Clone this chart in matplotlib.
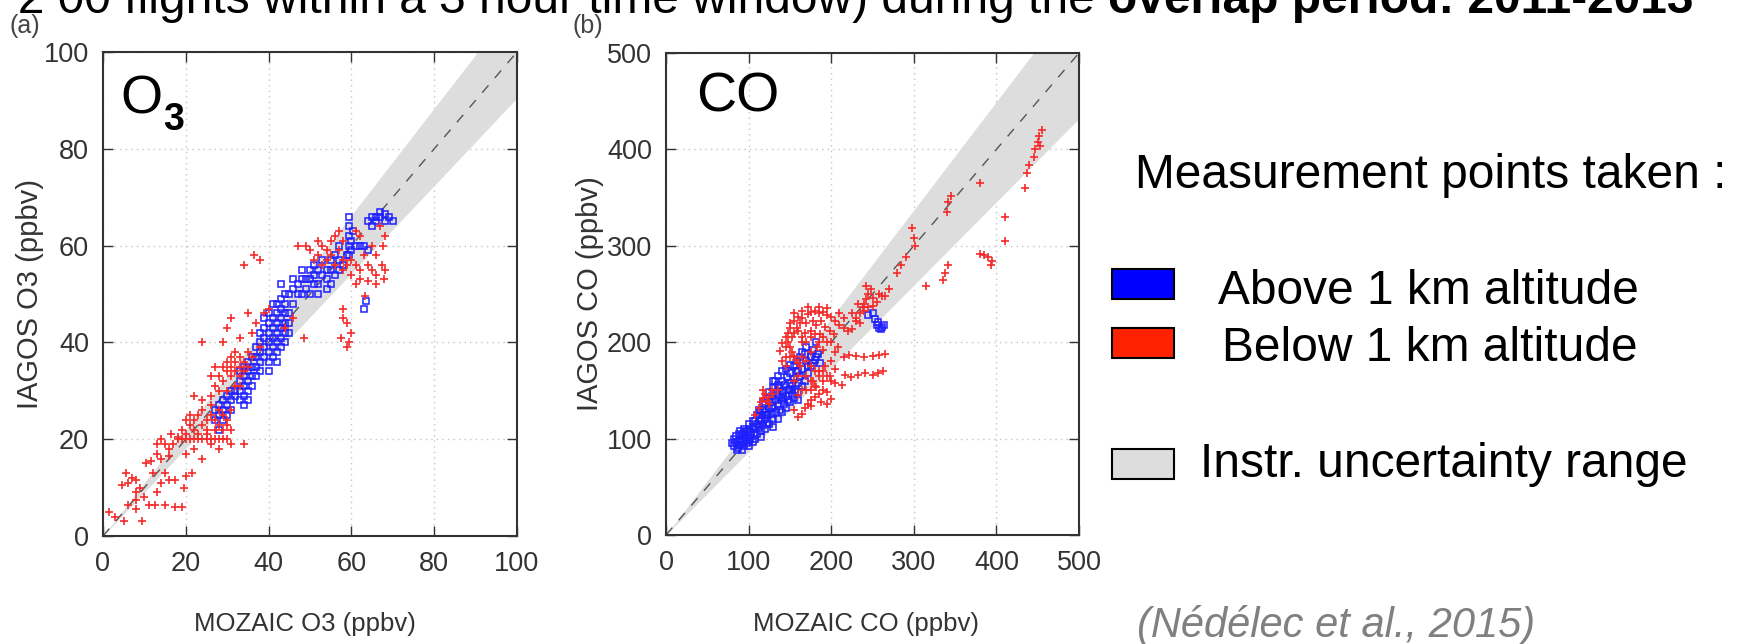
"""
IAGOS vs MOZAIC comparison scatter plots (O3 and CO), slide layout.
"""

import numpy as np
import matplotlib
matplotlib.use('Agg')
import matplotlib.pyplot as plt
from matplotlib.patches import Rectangle

plt.rcParams['font.family'] = ['Liberation Sans', 'DejaVu Sans']

# ---- data ----
o3_red = [
    (1.5, 5), (3, 4), (5, 3), (4.5, 10.5), (5.5, 13), (6, 11), (7, 12), (8, 11.5), (8, 9), (9, 10),
    (8, 7.5), (8, 5.5), (9.5, 3), (6, 6.5), (11, 6.5), (12.5, 6.5), (15, 6.5), (17.5, 6), (19, 6),
    (10.5, 15), (11.5, 15.5), (12, 13), (13, 17), (13, 19), (15, 19), (14, 16), (16, 16.5), (16.5, 21),
    (18, 20.5), (15, 13), (16, 11.5), (17.5, 11.5), (19.5, 10), (21.5, 13), (20, 12.5), (13, 9), (10, 8),
    (14, 11), (18, 20), (19, 20), (20, 20), (21, 20), (22, 20), (23, 20), (24, 20), (25, 20), (26, 20),
    (27, 20), (28, 20), (29, 20), (30, 20), (19, 22), (20, 21), (21, 23), (22, 22), (22, 24), (23, 25),
    (24, 23), (24, 26), (25, 22), (25, 24), (26, 25), (26, 27), (27, 22), (27, 24), (28, 23), (28, 26),
    (29, 22), (29, 25), (30, 24), (30, 23), (31, 26), (31, 22), (23, 21), (25, 21), (21, 25), (20, 24),
    (17, 19), (16, 18), (14, 20), (26, 19), (28, 18), (31, 19), (34, 19), (22, 18), (24, 16), (20, 17),
    (22, 29), (24, 28), (26, 29), (27, 31), (28, 30), (29, 32), (30, 30), (28, 33), (29, 35), (30, 34),
    (30, 36), (31, 33), (31, 35), (31, 37), (32, 34), (32, 36), (32, 38), (33, 33), (33, 35), (33, 37),
    (34, 34), (34, 36), (35, 35), (35, 38), (36, 37), (33, 31), (32, 31), (26, 33), (27, 35), (24, 40),
    (29, 40), (30, 43), (31, 45), (33, 41), (35, 46), (36, 42), (38, 39), (37, 44), (39, 46), (40, 47),
    (34, 56), (36.5, 58), (38, 57), (48.5, 41), (44, 43), (46, 45),
    (47, 60), (49, 60), (50, 59), (52, 61), (53, 60), (54, 59), (55, 61), (56, 62), (57, 63), (58, 61),
    (57, 59), (55, 58), (56, 56), (58, 57), (59, 56), (60, 57), (61, 56), (62, 55), (60, 54), (61, 52),
    (62, 53), (58, 55), (54, 57), (53, 56), (52, 58), (51, 57),
    (63, 58), (64, 56), (65, 55), (66, 54), (67.5, 56), (67.8, 53), (66, 52), (64, 52.7), (63.3, 49.5),
    (65, 60), (67.6, 60), (66, 58), (68, 55),
    (58, 47), (59, 44), (60, 42), (59.5, 40), (59, 39), (57.5, 41), (58, 45), (62, 62), (61, 63),
    (67, 64), (68, 62),
]
o3_blue = [
    (27, 26), (27, 24), (28, 27), (28, 25), (29, 28), (29, 26), (29, 24), (30, 29), (30, 27), (30, 25),
    (31, 30), (31, 28), (32, 30), (32, 29), (31, 26), (28, 22),
    (33, 28), (33, 30), (33, 32), (34, 29), (34, 31), (34, 33), (35, 30), (35, 32), (35, 34), (36, 31),
    (36, 33), (36, 35), (33, 34), (34, 35), (35, 36), (36, 37), (37, 33), (37, 35), (37, 37), (38, 36),
    (34, 27), (35, 28),
    (38, 38), (38, 40), (39, 37), (39, 39), (39, 41), (40, 36), (40, 38), (40, 40), (40, 42), (41, 37),
    (41, 39), (41, 41), (41, 43), (42, 38), (42, 40), (42, 42), (42, 44), (43, 39), (43, 41), (43, 43),
    (43, 45), (44, 40), (44, 42), (44, 44), (38, 42), (39, 43), (40, 44), (41, 45), (40, 46), (39, 45),
    (42, 46), (43, 47), (42, 48), (41, 48), (44, 46), (45, 46), (45, 44), (43, 49), (44, 48), (37, 39),
    (45, 42), (38, 34), (40, 34), (42, 36),
    (45, 50), (46, 51), (46, 53), (47, 52), (47, 50), (48, 53), (48, 55), (49, 51), (49, 53), (50, 50),
    (50, 53), (50, 55), (51, 54), (51, 56), (52, 52), (52, 55), (53, 54), (53, 57), (54, 53), (54, 55),
    (55, 55), (55, 57), (56, 54), (56, 58), (57, 57), (57, 55), (44, 50), (43, 52), (46, 48), (48, 50),
    (51, 52), (52, 50), (54, 51), (58, 56), (59, 58), (57, 60), (55, 52),
    (59.5, 58), (59.5, 60), (59.5, 62), (59.5, 64), (59.5, 66), (60, 59), (60, 61), (60.5, 63), (61, 60),
    (62, 60), (63, 60), (64, 59), (64, 65), (65, 66), (66, 66), (67, 66), (68, 65), (69, 66), (70, 65),
    (65, 64), (66, 65), (67, 67), (68, 66.5), (63.5, 48.5), (63, 47),
]
co_blue = [
    (80, 95), (82, 92), (82, 100), (85, 96), (85, 103), (87, 90), (88, 98), (88, 105), (90, 93), (90, 100),
    (92, 96), (92, 104), (94, 99), (95, 92), (95, 106), (97, 101), (98, 95), (98, 108), (100, 98),
    (100, 104), (100, 110), (102, 100), (103, 107), (105, 96), (105, 112), (106, 104), (108, 110),
    (108, 118), (110, 105), (110, 115), (110, 125), (112, 112), (112, 120), (114, 128), (115, 108),
    (115, 118), (116, 124), (118, 114), (118, 130), (120, 120), (120, 128), (120, 136), (122, 116),
    (122, 142), (124, 124), (125, 132), (125, 148), (126, 138), (128, 126), (128, 144), (130, 120),
    (130, 134), (130, 152), (132, 140), (133, 128), (134, 148), (135, 156), (136, 136), (137, 144),
    (138, 130), (138, 152), (140, 140), (140, 160), (142, 148), (143, 136), (144, 156), (145, 144),
    (146, 164), (148, 150), (148, 140), (150, 158), (150, 168), (152, 146), (153, 155), (155, 162),
    (156, 150), (158, 170), (160, 158), (160, 148), (162, 165), (165, 155), (165, 172), (168, 160),
    (170, 180), (172, 168), (175, 185), (175, 175), (178, 192), (180, 182), (182, 200), (184, 188),
    (186, 178), (170, 195), (165, 190), (158, 180), (150, 176), (140, 170), (132, 160),
    (95, 110), (100, 115), (105, 118), (90, 108), (86, 88), (92, 88), (100, 92), (108, 100), (115, 102),
    (120, 110), (125, 115), (130, 112), (135, 120), (140, 128), (145, 132), (150, 138), (155, 142),
    (160, 140), (118, 138), (112, 130), (130, 160), (135, 165), (145, 172), (155, 175), (162, 185),
    (168, 188), (172, 175), (178, 178), (182, 185), (160, 170), (150, 150), (142, 142), (128, 132),
    (122, 124),
    (255, 218), (258, 215), (260, 214), (262, 216), (257, 221), (264, 218), (253, 224), (250, 230), (245, 228),
]
co_red = [
    (108, 125), (112, 132), (115, 138), (118, 142), (120, 146), (122, 139), (125, 143), (128, 150),
    (130, 146), (118, 150), (125, 136), (135, 150),
    (138, 191), (141, 199), (145, 205), (148, 210), (150, 195), (152, 190), (155, 186), (157, 182),
    (160, 178), (162, 175), (150, 215), (145, 185), (140, 180),
    (165, 200), (168, 210), (170, 220), (172, 229), (176, 231), (180, 232), (185, 230), (190, 231),
    (195, 228), (200, 226), (205, 222), (210, 218), (215, 215), (220, 212), (225, 214), (230, 222),
    (178, 222), (182, 218), (188, 222), (193, 216), (198, 212), (203, 208), (176, 212), (186, 208),
    (160, 226), (155, 230),
    (145, 195), (148, 200), (152, 205), (155, 210), (158, 215), (162, 220), (165, 225), (150, 220),
    (155, 222), (160, 212), (165, 205), (170, 200), (175, 205), (180, 208), (185, 200), (190, 205),
    (195, 200), (165, 185), (170, 180), (175, 175), (180, 170), (185, 165), (190, 170), (195, 165),
    (200, 160), (205, 158), (175, 160), (170, 165), (160, 165), (155, 160), (165, 150), (160, 145),
    (175, 150), (180, 155), (150, 185), (145, 175), (172, 236), (165, 232), (185, 236), (195, 235),
    (210, 230), (215, 225),
    (230, 225), (235, 230), (238, 236), (240, 240), (242, 245), (245, 250), (248, 255), (250, 246),
    (255, 242), (258, 250), (262, 248), (240, 232), (245, 236), (250, 238), (235, 220), (225, 230),
    (265, 248), (270, 255), (242, 258), (232, 240),
    (168, 132), (172, 136), (176, 140), (180, 143), (185, 146), (190, 150), (195, 148), (188, 138),
    (175, 134), (165, 126), (160, 122), (155, 130), (195, 136), (200, 141), (182, 154), (190, 160),
    (198, 165), (170, 150), (178, 160), (185, 170), (192, 175), (200, 180), (205, 172), (175, 190),
    (183, 195), (190, 192), (200, 200), (208, 195),
    (213, 156), (217, 166), (224, 164), (232, 166), (241, 168), (250, 166), (257, 168), (263, 170),
    (215, 185), (222, 187), (230, 186), (240, 185), (250, 186), (258, 187), (265, 188), (205, 190),
    (280, 272), (285, 280), (290, 288), (298, 318), (300, 308), (302, 300), (315, 258), (335, 265),
    (338, 272), (342, 280), (340, 335), (342, 345), (345, 352), (380, 365), (380, 292), (385, 290),
    (390, 288), (395, 284), (393, 280), (410, 330), (410, 305), (435, 360), (437, 376), (440, 384),
    (445, 392), (447, 400), (450, 408), (452, 414), (455, 420), (453, 404),
]

# uncertainty bands (end points of the grey wedge)
o3_band_x = [0, 100]
o3_band_lo = [0, 90.5]
o3_band_hi = [0, 110.5]
co_band_x = [0, 500]
co_band_lo = [0, 432]
co_band_hi = [0, 562]

o3_ticks = [0, 20, 40, 60, 80, 100]
co_ticks = [0, 100, 200, 300, 400, 500]

W, H = 1738, 644
RED = '#f52a2a'
BLUE = '#1f1fff'
TICK_C = '#333333'

fig = plt.figure(figsize=(W / 100, H / 100), dpi=100)


def fx(x):
    return x / W


def fy(y):
    return 1 - y / H


def panel(rect, ticks, band_x, band_lo, band_hi, blue, red):
    ax = fig.add_axes(rect)
    lim = ticks[-1]
    ax.set_xlim(0, lim)
    ax.set_ylim(0, lim)
    ax.set_xticks(ticks)
    ax.set_yticks(ticks)
    ax.tick_params(direction='in', length=7, width=1, top=True, right=True,
                   labelsize=19.5, labelcolor=TICK_C, color=TICK_C)
    ax.tick_params(axis='x', pad=11)
    ax.tick_params(axis='y', pad=10)
    ax.grid(True, linestyle=(0, (1, 3)), color='#c4c4c4', lw=1)
    ax.set_axisbelow(True)
    for s in ax.spines.values():
        s.set_linewidth(1.5)
        s.set_color(TICK_C)
        s.set_zorder(5)

    ax.fill_between(band_x, band_lo, band_hi, color='#dddddd', lw=0, zorder=1)
    ax.plot([ticks[0], lim], [ticks[0], lim], color='#555555', lw=1, dashes=(7, 7), zorder=2)

    b = np.array(blue)
    r = np.array(red)
    ax.plot(b[:, 0], b[:, 1], 's', ms=4, mfc='none', mec=BLUE, mew=1.1, zorder=3)
    ax.plot(r[:, 0], r[:, 1], '+', ms=6, color=RED, mew=1.2, zorder=4)
    return ax


ax_a = panel([fx(103), fy(536), 414 / W, 484 / H], o3_ticks,
             o3_band_x, o3_band_lo, o3_band_hi, o3_blue, o3_red)
ax_b = panel([fx(666), fy(535), 413 / W, 482 / H], co_ticks,
             co_band_x, co_band_lo, co_band_hi, co_blue, co_red)

# species labels inside panels
ax_a.text(4.3, 87.2, 'O', fontsize=39, va='baseline', ha='left', zorder=6)
ax_a.text(14.6, 83.8, '3', fontsize=27, fontweight='bold', va='baseline', ha='left', zorder=6)
ax_b.text(36.3, 438.8, 'CO', fontsize=40, va='baseline', ha='left', zorder=6)

# axis labels
fig.text(fx(30), fy(294), 'IAGOS O3 (ppbv)', rotation=90, ha='center', va='center',
         fontsize=21, color=TICK_C)
fig.text(fx(590), fy(294), 'IAGOS CO (ppbv)', rotation=90, ha='center', va='center',
         fontsize=21, color=TICK_C)
fig.text(fx(305), fy(624), 'MOZAIC O3 (ppbv)', ha='center', va='center', fontsize=18.5, color=TICK_C)
fig.text(fx(866), fy(624), 'MOZAIC CO (ppbv)', ha='center', va='center', fontsize=18.5, color=TICK_C)
fig.text(fx(25), fy(26), '(a)', ha='center', va='center', fontsize=18, color='#444444')
fig.text(fx(588), fy(26), '(b)', ha='center', va='center', fontsize=18, color='#444444')

# title line, cut off at the top like the slide
renderer = fig.canvas.get_renderer()
bold = fig.text(fx(1694), fy(13), 'overlap period: 2011-2013', ha='right', va='baseline',
                fontsize=34.5, fontweight='bold')
bb = bold.get_window_extent(renderer)
fig.text(bb.x0 / W, fy(13), '(~2 00 flights within a 3 hour time window) during the ',
         ha='right', va='baseline', fontsize=34.5)

# legend
fig.text(fx(1135), fy(188), 'Measurement points taken :', fontsize=34.5, va='baseline')
for y0, col in [(269, '#0000ff'), (328, '#ff2200'), (449, '#dddddd')]:
    fig.patches.append(Rectangle((fx(1112), fy(y0 + 30)), 62 / W, 30 / H, transform=fig.transFigure,
                                 facecolor=col, edgecolor='black', lw=1.5))
fig.text(fx(1218), fy(304), 'Above 1 km altitude', fontsize=34.5, va='baseline')
fig.text(fx(1222), fy(361), 'Below 1 km altitude', fontsize=34.5, va='baseline')
fig.text(fx(1200), fy(477), 'Instr. uncertainty range', fontsize=34.5, va='baseline')
fig.text(fx(1137), fy(637), '(Nédélec et al., 2015)', fontsize=30, style='italic',
         color='#808080', va='baseline')

fig.savefig('out.png', dpi=100)
